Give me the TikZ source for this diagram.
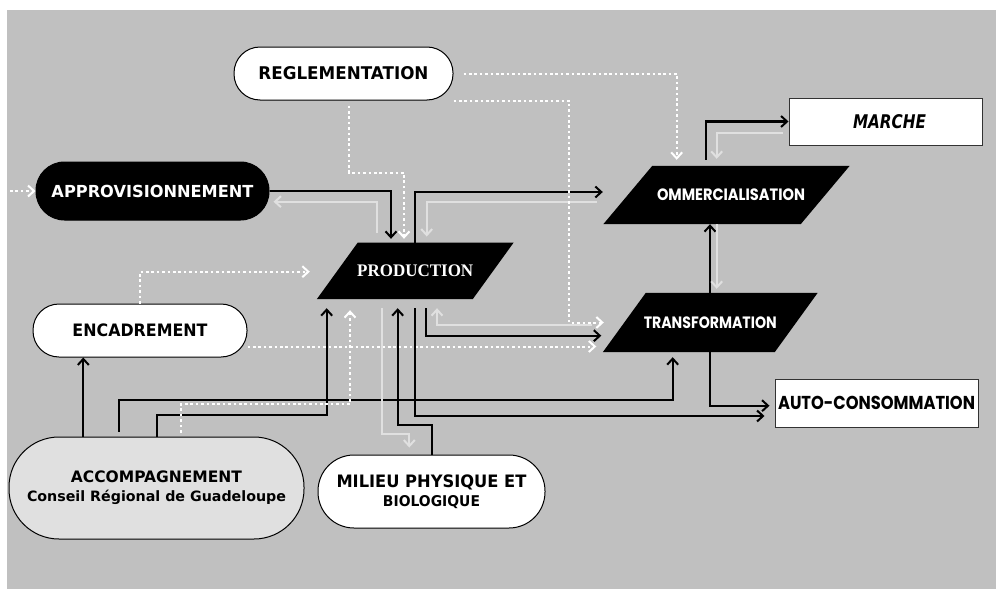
\documentclass[tikz,border=0pt]{standalone}
\usepackage{fontspec}
\usepackage{graphicx}
\usetikzlibrary{arrows.meta,backgrounds}
\newfontfamily\comic{DejaVu Sans}
\newfontfamily\geo{Poppins}
\newfontfamily\tms{Liberation Serif}
\definecolor{bgc}{HTML}{C0C0C0}
\definecolor{lgc}{HTML}{E0E0E0}
\definecolor{accfill}{HTML}{E0E0E0}
\newcommand{\fw}[2]{\resizebox{#1}{!}{#2}}
\newcommand{\fwh}[3]{\resizebox{#1}{#2}{#3}}
\begin{document}
\begin{tikzpicture}[x=1pt,y=-1pt,
  pill/.style={draw=black, line width=1pt, rounded corners=#1, inner sep=0pt},
  whitebox/.style={draw=black!80, line width=1pt, fill=white, inner sep=0pt},
  para/.style={inner sep=0pt, draw=none, text=white},
  blk/.style={draw=black, line width=2.3pt, -{Straight Barb[length=6pt,width=11pt,line width=2pt]}},
  gry/.style={draw=lgc, line width=2.3pt, -{Straight Barb[length=6pt,width=11pt,line width=2pt]}},
  dot/.style={draw=white, line width=2pt, dash pattern=on 2.6pt off 2.8pt, -{Straight Barb[length=6pt,width=11pt,line width=2pt]}},
]
\useasboundingbox (0,0) rectangle (996,589);

% nodes
\node[pill=26pt, fill=white, minimum width=219pt, minimum height=53pt] (regl) at (343.5,73.5)
  {\fwh{170pt}{13pt}{\comic\bfseries REGLEMENTATION}};
\node[pill=28.5pt, fill=black, minimum width=233pt, minimum height=58pt, text=white] (appr) at (152.5,191)
  {\fwh{202pt}{12.3pt}{\comic\bfseries APPROVISIONNEMENT}};
\node[pill=26pt, fill=white, minimum width=214pt, minimum height=53pt] (enc) at (140,330.5)
  {\fwh{135pt}{12.7pt}{\comic\bfseries ENCADREMENT}};
\node[pill=50pt, fill=accfill, minimum width=295pt, minimum height=102pt, align=center] (acc) at (156.5,488)
  {\fwh{171pt}{11.7pt}{\comic\bfseries ACCOMPAGNEMENT}\\[7pt]\fw{259pt}{\comic\bfseries Conseil Régional de Guadeloupe}};
\node[pill=36pt, fill=white, minimum width=227pt, minimum height=73pt, align=center] (mil) at (431.5,491.5)
  {\fwh{190pt}{12.7pt}{\comic\bfseries MILIEU PHYSIQUE ET}\\[5pt]\fwh{97pt}{11pt}{\comic\bfseries BIOLOGIQUE}};
\node[whitebox, minimum width=193pt, minimum height=47pt] (marche) at (885.5,121.5)
  {\hspace*{8pt}\fwh{73pt}{14pt}{\comic\bfseries\itshape MARCHE}};
\node[whitebox, minimum width=203pt, minimum height=48pt] (auto) at (876.5,403)
  {\fwh{197pt}{13.3pt}{\geo\bfseries AUTO-CONSOMMATION}};
\node[para, minimum width=155.5pt, minimum height=56.3pt] (prod) at (415.25,270.85)
  {\fwh{116pt}{11.7pt}{\tms\bfseries PRODUCTION}};
\node[para, minimum width=197pt, minimum height=58pt] (comm) at (726.5,195)
  {\hspace*{9pt}\fwh{148pt}{11.7pt}{\geo\bfseries OMMERCIALISATION}};
\node[para, minimum width=171.5pt, minimum height=59pt] (trans) at (710.25,322.5)
  {\fwh{133pt}{11.7pt}{\geo\bfseries TRANSFORMATION}};

\begin{scope}[on background layer]
  \fill[bgc] (7,10) rectangle (996,589);
  \fill[black] ([xshift=20.5pt]prod.north west) -- ([xshift=20.5pt]prod.north east)
     -- ([xshift=-20.5pt]prod.south east) -- ([xshift=-20.5pt]prod.south west) -- cycle;
  \fill[black] ([xshift=24.5pt]comm.north west) -- ([xshift=24.5pt]comm.north east)
     -- ([xshift=-24.5pt]comm.south east) -- ([xshift=-24.5pt]comm.south west) -- cycle;
  \fill[black] ([xshift=21.5pt]trans.north west) -- ([xshift=21.5pt]trans.north east)
     -- ([xshift=-21.5pt]trans.south east) -- ([xshift=-21.5pt]trans.south west) -- cycle;
\end{scope}

% connectors
\coordinate (c1s) at (10,191);
\draw[dot] (c1s) -- (appr.west);
\draw[blk, shorten >=3.7pt] (appr.east) -| (391,0 |- prod.north);
\draw[gry, shorten <=9.7pt, shorten >=4pt] (376.7,0 |- prod.north) |- ([yshift=-10.7pt]appr.east);
\draw[dot, shorten <=5pt, shorten >=3.7pt] (349.3,0 |- regl.south) |- (404,172.7) -- (404,0 |- prod.north);
\draw[blk] (415,0 |- prod.north) |- ([xshift=-25pt,yshift=3pt]comm.west);
\draw[gry, shorten >=6pt] ([xshift=-31pt,yshift=-7pt]comm.west) -| (426.7,0 |- prod.north);
\draw[dot, shorten >=6pt] ([xshift=10pt]regl.east) -| (676.7,0 |- comm.north);
\draw[dot] (regl.south east) -| (569,0 |- trans.west) -- ([xshift=-20.5pt]trans.west);
\draw[blk, shorten <=6pt] (705.7,0 |- comm.north) |- (marche.west);
\draw[gry, shorten >=7pt] ([xshift=-6pt,yshift=-11.5pt]marche.west) -| (716.7,0 |- comm.north);
\draw[blk] (710,0 |- trans.north) -- (710,0 |- comm.south);
\draw[gry, shorten >=4pt] (716.7,0 |- comm.south) -- (716.7,0 |- trans.north);
\draw[blk, shorten >=5pt] (710,0 |- trans.south) |- ([yshift=-2.7pt]auto.west);
\draw[blk, shorten <=9pt] (426,0 |- prod.south) |- ([xshift=-23pt,yshift=-13.2pt]trans.west);
\draw[gry, shorten >=9pt] ([xshift=-32pt,yshift=-2.5pt]trans.west) -| (437,0 |- prod.south);
\draw[dot] (enc.north) |- ([xshift=-27.5pt,yshift=-0.85pt]prod.west);
\draw[dot] ([yshift=-16pt]enc.east) -- ([xshift=-28pt,yshift=-24pt]trans.west);
\draw[blk] (83.3,0 |- acc.north) -- (83.3,0 |- enc.south);
\draw[blk, shorten <=5pt, shorten >=5pt] (119,0 |- acc.north) |- (672.7,400) -- (672.7,0 |- trans.south);
\draw[blk, shorten >=9pt] (156.7,0 |- acc.north) |- (326.7,415) -- (326.7,0 |- prod.south);
\draw[dot, shorten <=4pt, shorten >=11pt] (181,0 |- acc.north) |- (350,404) -- (350,0 |- prod.south);
\draw[gry, shorten <=9pt, shorten >=7pt] (382.3,0 |- prod.south) |- (409.3,434) -- (409.3,0 |- mil.north);
\draw[blk, shorten >=9pt] (432.3,0 |- mil.north) |- (397.7,425) -- (397.7,0 |- prod.south);
\draw[blk, shorten <=9pt] (415,0 |- prod.south) |- ([xshift=-10pt,yshift=-13pt]auto.west);
\end{tikzpicture}
\end{document}
